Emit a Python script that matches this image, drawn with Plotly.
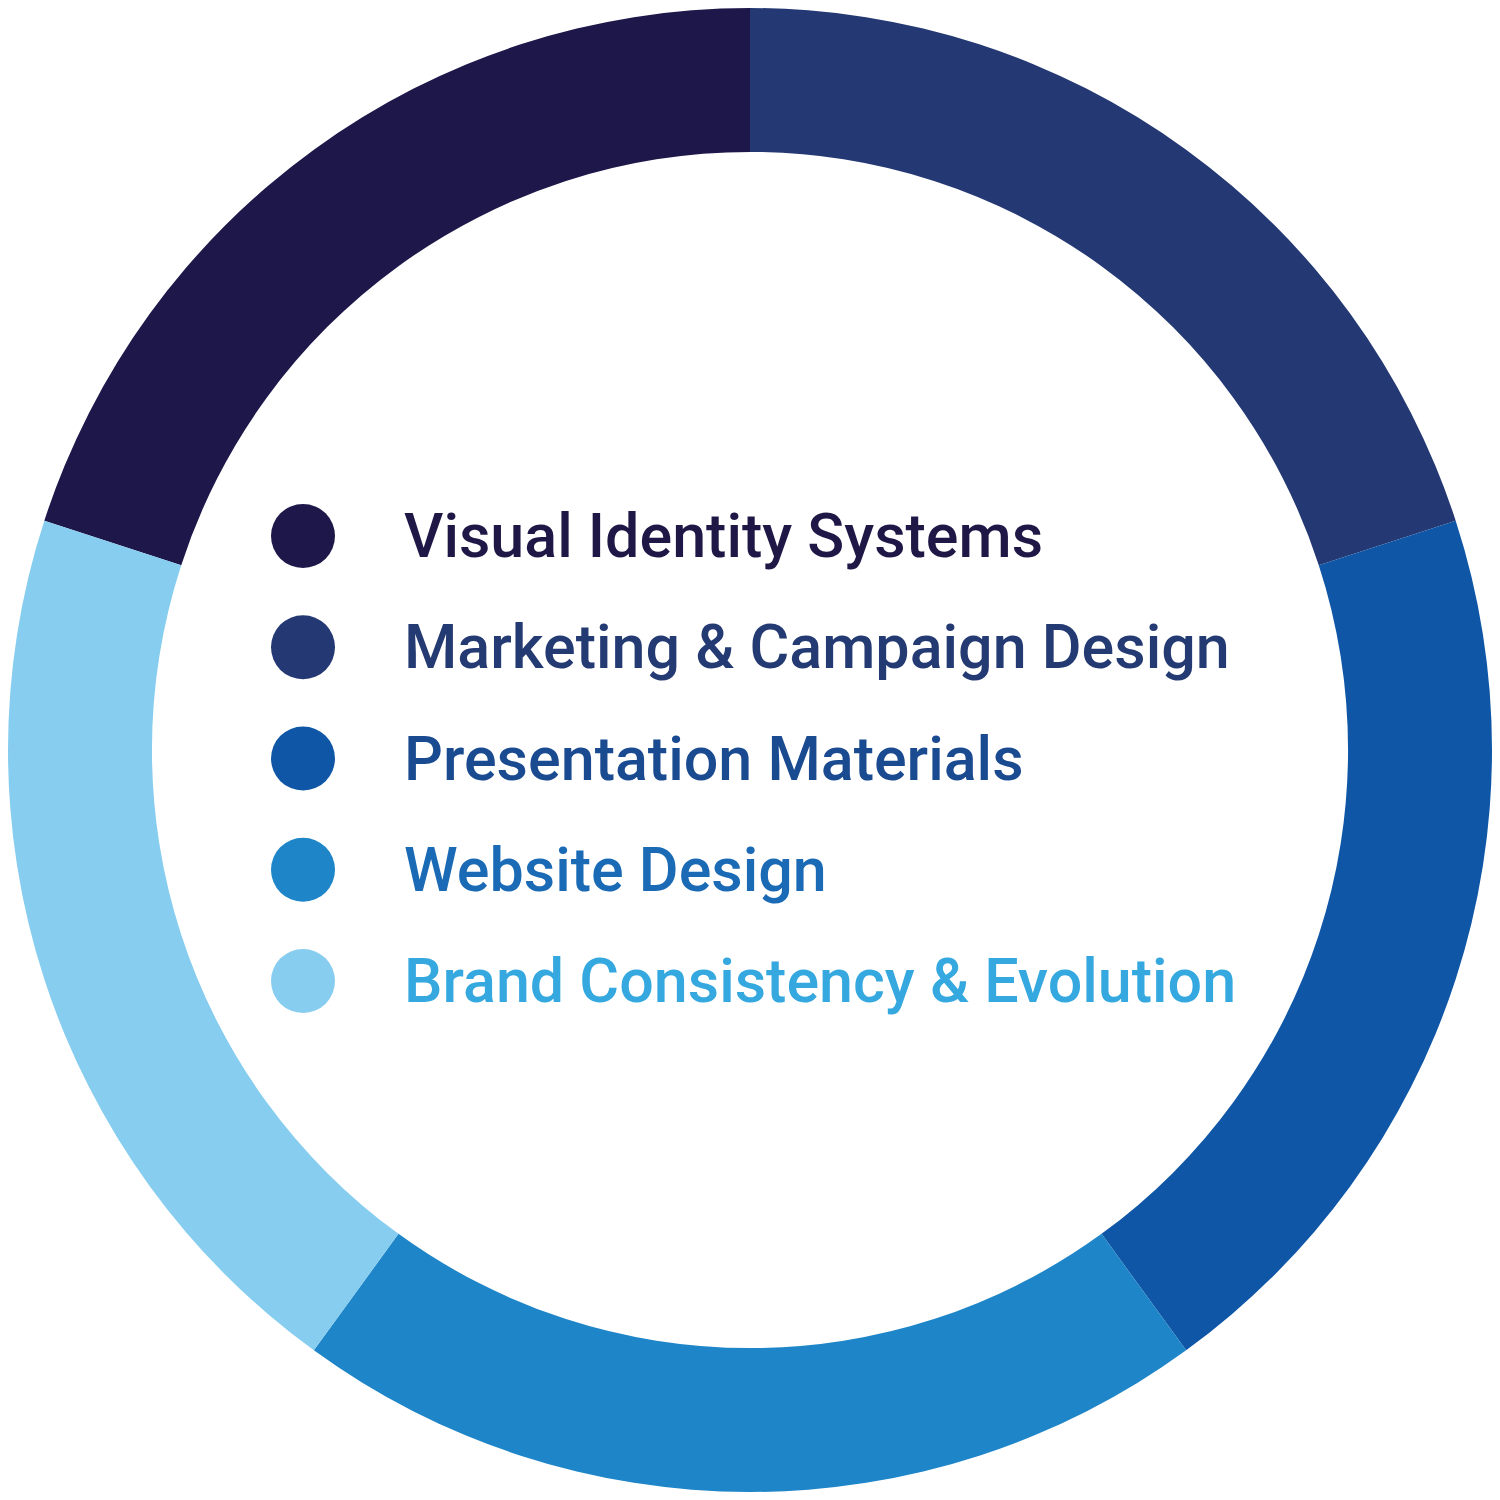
import plotly.graph_objects as go

categories = ["Visual Identity Systems", "Marketing & Campaign Design", "Presentation Materials",
              "Website Design", "Brand Consistency & Evolution"]
values = [20, 20, 20, 20, 20]
slice_colors = ["#1e174a", "#243873", "#0f57a6", "#1d85c8", "#86cdf0"]
text_colors = ["#1f1746", "#243a73", "#1a4a90", "#1a6ab5", "#35a8e0"]
legend_index = [0, 1, 2, 3, 4]

W = 1484
OFF = 8  # page body margin
step = 111.25
y0 = 536

fig = go.Figure()
fig.add_trace(go.Pie(
    labels=categories, values=values, sort=False, direction="clockwise", rotation=288,
    hole=0.806, marker=dict(colors=slice_colors, line=dict(width=0)),
    textinfo="none", showlegend=False, hoverinfo="label+percent",
    domain=dict(x=[0, 1], y=[0, 1]),
))

fig.add_trace(go.Scatter(
    x=[303]*len(categories), y=legend_index, mode="markers",
    marker=dict(size=64, color=slice_colors, line=dict(width=0)),
    showlegend=False, hoverinfo="skip", xaxis="x", yaxis="y",
))

for i, (c, col) in enumerate(zip(categories, text_colors)):
    fig.add_annotation(x=402, y=legend_index[i], xref="x", yref="y", text=c,
                       showarrow=False, xanchor="left", yanchor="middle",
                       font=dict(family="Roboto", size=61, color=col, weight=500))

fig.update_layout(
    width=W, height=W, margin=dict(l=0, r=0, t=0, b=0),
    paper_bgcolor="white", plot_bgcolor="rgba(0,0,0,0)",
    xaxis=dict(range=[OFF, OFF + W], visible=False, domain=[0, 1], fixedrange=True),
    yaxis=dict(range=[(OFF + W - y0)/step, (OFF - y0)/step], visible=False, domain=[0, 1], fixedrange=True),
)
fig.write_html("out.html")
